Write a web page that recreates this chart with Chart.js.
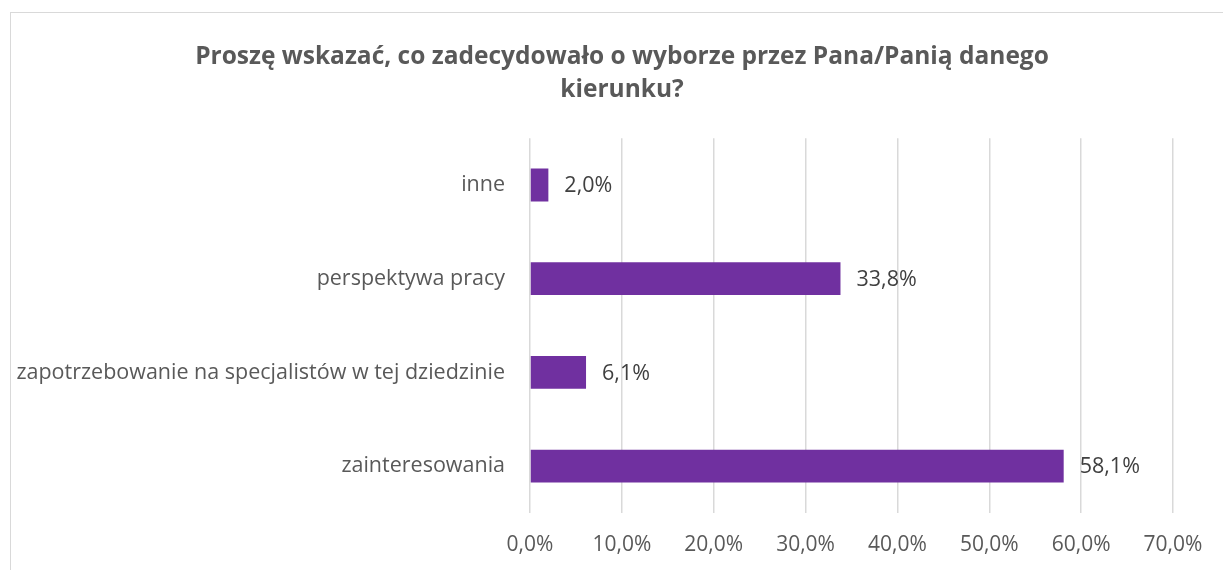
<!DOCTYPE html>
<html>
<head>
<meta charset="utf-8">
<script src="https://cdn.jsdelivr.net/npm/chart.js@4"></script>
<style>
    html, body { margin: 0; padding: 0; background: #fff; overflow: hidden; }
    .frame { position: absolute; left: 10px; top: 12px; width: 1260px; height: 620px; border: 1.5px solid #d9d9d9; }
    .wrap { position: absolute; left: 0; top: 0; width: 1223px; height: 570px; }
</style>
</head>
<body>
<div class="frame"></div>
<div class="wrap"><canvas id="chart" width="1223" height="570"></canvas></div>
<script>
// Chart data
const categories = ['inne', 'perspektywa pracy', 'zapotrzebowanie na specjalistów w tej dziedzinie', 'zainteresowania'];
const values = [2.0, 33.8, 6.1, 58.1];
const tickValues = [0, 10, 20, 30, 40, 50, 60, 70];

const fmt = v => v.toFixed(1).replace('.', ',') + '%';

// Value labels next to bars
const valueLabels = {
    id: 'valueLabels',
    afterLayout(chart) {
        // let long category labels spill to the left edge instead of being clipped
        chart.scales.y.left = 0;
    },
    afterDatasetsDraw(chart) {
        const ctx = chart.ctx;
        const meta = chart.getDatasetMeta(0);
        ctx.save();
        ctx.font = '21.5px "Open Sans"';
        ctx.fillStyle = '#404040';
        ctx.textAlign = 'left';
        ctx.textBaseline = 'middle';
        meta.data.forEach((bar, i) => {
            ctx.fillText(fmt(values[i]), bar.x + 16, bar.y + 1);
        });
        ctx.restore();
    }
};

new Chart(document.getElementById('chart'), {
    type: 'bar',
    data: {
        labels: categories,
        datasets: [{
            data: values,
            backgroundColor: '#7030A0',
            categoryPercentage: 1,
            barPercentage: 0.35
        }]
    },
    options: {
        indexAxis: 'y',
        responsive: false,
        animation: false,
        layout: { padding: { left: 71, right: 50, top: 0, bottom: 0 } },
        plugins: {
            legend: { display: false },
            tooltip: { enabled: false },
            title: {
                display: true,
                text: ['Proszę wskazać, co zadecydowało o wyborze przez Pana/Panią danego', 'kierunku?'],
                color: '#595959',
                font: { family: '"Open Sans"', size: 24.5, weight: 'bold', lineHeight: 1.35 },
                padding: { top: 40, bottom: 32 }
            }
        },
        scales: {
            x: {
                min: 0,
                max: 70,
                afterBuildTicks(scale) {
                    scale.ticks = tickValues.map(v => ({ value: v }));
                },
                ticks: {
                    color: '#595959',
                    font: { family: '"Open Sans"', size: 21 },
                    padding: 19,
                    maxRotation: 0,
                    callback: v => fmt(v)
                },
                grid: { color: '#d9d9d9', lineWidth: 1.5, drawTicks: false },
                border: { display: false },
                afterFit(scale) {
                    scale.height = 57;
                    scale.paddingLeft = 0;
                    scale.paddingRight = 0;
                }
            },
            y: {
                ticks: {
                    color: '#595959',
                    font: { family: '"Open Sans"', size: 21.5 },
                    padding: 25
                },
                grid: { display: false, drawTicks: false },
                border: { display: false },
                afterFit(scale) {
                    scale.width = 530 - 71;
                }
            }
        }
    },
    plugins: [valueLabels]
});
</script>
</body>
</html>
